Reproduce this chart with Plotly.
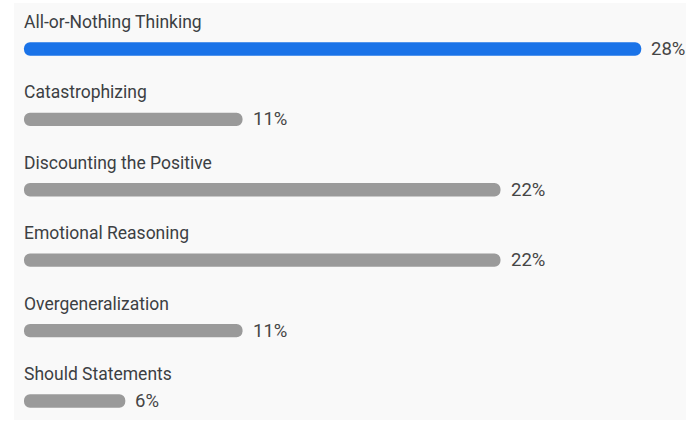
import plotly.graph_objects as go

# Survey responses: share of respondents choosing each distortion
categories = [
    "All-or-Nothing Thinking",
    "Catastrophizing",
    "Discounting the Positive",
    "Emotional Reasoning",
    "Overgeneralization",
    "Should Statements",
]
percents = [28, 11, 22, 22, 11, 6]
value_labels = ["28%", "11%", "22%", "22%", "11%", "6%"]
highlight = "All-or-Nothing Thinking"

BAR_START = 1.68          # value at which every bar begins
BLUE = "#1a73e8"
GREY = "#9a9a9a"

rows = list(range(len(categories)))
colors = [BLUE if c == highlight else GREY for c in categories]

fig = go.Figure()
fig.add_trace(go.Bar(
    x=[p - BAR_START for p in percents],
    y=rows,
    base=BAR_START,
    orientation="h",
    width=0.19,
    marker=dict(color=colors, cornerradius=7, line=dict(width=0)),
    hoverinfo="skip",
))

# category name above each bar
for r, name in zip(rows, categories):
    fig.add_annotation(
        x=BAR_START, y=r, text=name, showarrow=False,
        xanchor="left", yanchor="middle", xshift=-2, yshift=27,
        font=dict(family="Roboto", size=17.5, color="#3c4043"),
    )

# percentage to the right of each bar
for r, p, lab in zip(rows, percents, value_labels):
    fig.add_annotation(
        x=p, y=r, text=lab, showarrow=False,
        xanchor="left", yanchor="middle", xshift=8,
        font=dict(family="Roboto", size=18.5, color="#454545"),
    )

fig.update_layout(
    width=686, height=436,
    margin=dict(l=14, r=0, t=3, b=16),
    paper_bgcolor="#ffffff",
    plot_bgcolor="#f9f9f9",
    showlegend=False,
    xaxis=dict(range=[1.254, 29.91], visible=False, fixedrange=True),
    yaxis=dict(range=[5.27, -0.653], visible=False, fixedrange=True),
)

fig.write_html("out.html")
